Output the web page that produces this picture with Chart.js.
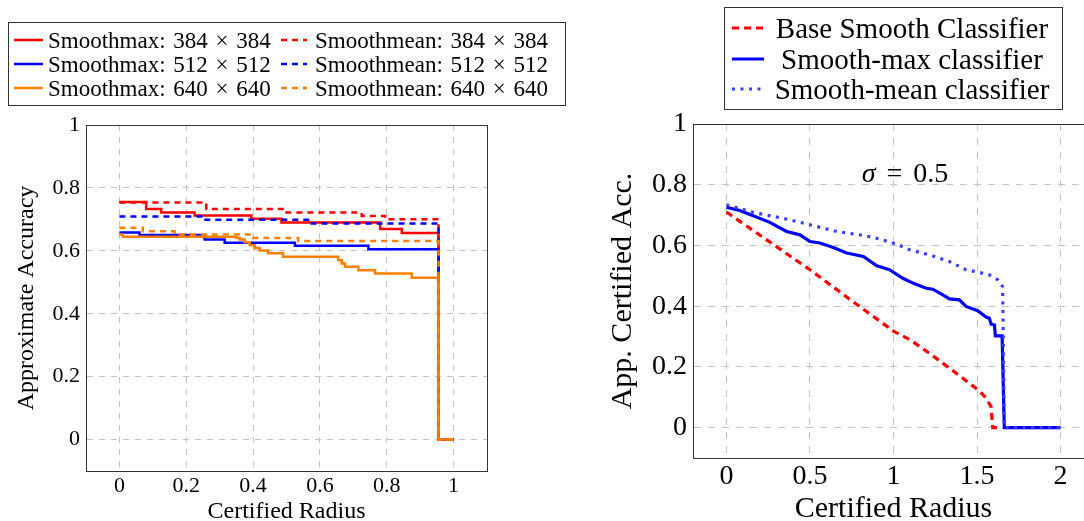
<!DOCTYPE html>
<html>
<head>
<meta charset="utf-8">
<script src="https://cdn.jsdelivr.net/npm/chart.js@4.4.0/dist/chart.umd.min.js"></script>
<style>
html, body { margin: 0; padding: 0; overflow: hidden; background: #fff; }
body { width: 1084px; height: 521px; position: relative; font-family: 'Liberation Serif', serif; color: #000; }
canvas { position: absolute; top: 0; }
.box { position: absolute; border: 1px solid #333; box-sizing: border-box; }
.item { position: absolute; white-space: nowrap; line-height: 1; }
svg { position: absolute; }
#sigma { position: absolute; left: 905px; top: 173px; transform: translate(-50%, -50%); font-size: 28px; line-height: 1; white-space: nowrap; word-spacing: 4px; }
</style>
</head>
<body>
<canvas id="left" width="500" height="521" style="left:0"></canvas>
<canvas id="right" width="520" height="521" style="left:590px"></canvas>
<div class="box" style="left:8px;top:22px;width:558px;height:84px"></div>
<div class="box" style="left:724px;top:7px;width:339px;height:103px"></div>
<div id="sigma"><i>σ</i> = 0.5</div>
<script>
// left panel: resolution study (step curves)
const leftXTicks = [0, 0.2, 0.4, 0.6, 0.8, 1];
const leftYTicks = [0, 0.2, 0.4, 0.6, 0.8, 1];

const max384X = [0, 0.08, 0.125, 0.225, 0.395, 0.485, 0.78, 0.845, 0.955, 1.0];
const max384Y = [0.755, 0.733, 0.722, 0.712, 0.702, 0.69, 0.669, 0.657, 0, 0];
const mean384X = [0, 0.26, 0.5, 0.725, 0.795, 0.955, 1.0];
const mean384Y = [0.754, 0.733, 0.722, 0.711, 0.70, 0, 0];
const max512X = [0, 0.06, 0.255, 0.315, 0.525, 0.745, 0.955, 1.0];
const max512Y = [0.658, 0.65, 0.636, 0.626, 0.616, 0.605, 0, 0];
const mean512X = [0, 0.245, 0.57, 0.955, 1.0];
const mean512Y = [0.709, 0.699, 0.687, 0, 0];
const max640X = [0, 0.01, 0.35, 0.36, 0.375, 0.39, 0.405, 0.42, 0.445, 0.49, 0.655, 0.665, 0.675, 0.715, 0.765, 0.875, 0.955, 1.0];
const max640Y = [0.652, 0.645, 0.641, 0.636, 0.627, 0.618, 0.609, 0.601, 0.592, 0.581, 0.57, 0.56, 0.549, 0.538, 0.528, 0.514, 0, 0];
const mean640X = [0, 0.07, 0.165, 0.4, 0.535, 0.955, 1.0];
const mean640Y = [0.673, 0.662, 0.652, 0.641, 0.631, 0, 0];

// right panel: sigma = 0.5
const rightXTicks = [0, 0.5, 1, 1.5, 2];
const rightYTicks = [0, 0.2, 0.4, 0.6, 0.8, 1];

const baseX = [0, 0.25, 0.5, 0.75, 1.0, 1.1, 1.215, 1.335, 1.454, 1.514, 1.554, 1.584, 1.594, 1.625];
const baseY = [0.71, 0.615, 0.52, 0.418, 0.318, 0.289, 0.245, 0.196, 0.146, 0.121, 0.097, 0.069, 0, 0];
const smaxX = [0, 0.08, 0.16, 0.26, 0.36, 0.44, 0.5, 0.56, 0.64, 0.72, 0.82, 0.9, 0.976, 1.056, 1.116, 1.195, 1.235, 1.295, 1.335, 1.394, 1.434, 1.504, 1.554, 1.574, 1.584, 1.604, 1.61, 1.65, 1.663, 2.0];
const smaxY = [0.726, 0.715, 0.698, 0.676, 0.646, 0.635, 0.613, 0.608, 0.593, 0.575, 0.564, 0.533, 0.52, 0.492, 0.476, 0.459, 0.456, 0.437, 0.424, 0.421, 0.399, 0.385, 0.364, 0.36, 0.341, 0.338, 0.302, 0.302, 0, 0];
const smeanX = [0, 0.16, 0.36, 0.5, 0.66, 0.82, 0.92, 1.02, 1.096, 1.215, 1.335, 1.434, 1.514, 1.574, 1.624, 1.653, 1.657, 1.663, 2.0];
const smeanY = [0.734, 0.709, 0.687, 0.668, 0.646, 0.633, 0.621, 0.604, 0.586, 0.569, 0.547, 0.52, 0.511, 0.503, 0.487, 0.465, 0.302, 0, 0];

const RED = '#ff0000', BLUE = '#0000ff', ORANGE = '#ff8000', LBLUE = '#3c3cff';
const serif = "'Liberation Serif', serif";

const pts = (xs, ys) => xs.map((x, i) => ({ x: x, y: ys[i] }));

const leftSeries = [
    { label: 'Smoothmax: 384 × 384', x: max384X, y: max384Y, color: RED, dash: [], col: 0, row: 0 },
    { label: 'Smoothmean: 384 × 384', x: mean384X, y: mean384Y, color: RED, dash: [6, 5], col: 1, row: 0 },
    { label: 'Smoothmax: 512 × 512', x: max512X, y: max512Y, color: BLUE, dash: [], col: 0, row: 1 },
    { label: 'Smoothmean: 512 × 512', x: mean512X, y: mean512Y, color: BLUE, dash: [6, 5], col: 1, row: 1 },
    { label: 'Smoothmax: 640 × 640', x: max640X, y: max640Y, color: ORANGE, dash: [], col: 0, row: 2 },
    { label: 'Smoothmean: 640 × 640', x: mean640X, y: mean640Y, color: ORANGE, dash: [6, 5], col: 1, row: 2 }
];

const rightSeries = [
    { label: 'Base Smooth Classifier', x: baseX, y: baseY, color: RED, dash: [7, 5] },
    { label: 'Smooth-max classifier', x: smaxX, y: smaxY, color: BLUE, dash: [] },
    { label: 'Smooth-mean classifier', x: smeanX, y: smeanY, color: LBLUE, dash: [3, 5.5] }
];

// closes the plot box on all four sides
const frame = {
    id: 'frame',
    afterDraw(chart) {
        const { ctx, chartArea: a } = chart;
        ctx.save();
        ctx.strokeStyle = '#333';
        ctx.lineWidth = 1;
        ctx.strokeRect(a.left + 0.5, a.top + 0.5, a.right - a.left, a.bottom - a.top);
        ctx.restore();
    }
};

function axis(min, max, ticks, title, o) {
    return {
        type: 'linear',
        min: min,
        max: max,
        afterBuildTicks: s => { s.ticks = ticks.map(v => ({ value: v })); },
        afterFit: s => { if (s.isHorizontal()) s.height = o.size; else s.width = o.size; },
        grid: { color: '#c4c4c4', lineWidth: 1, drawTicks: false },
        border: { color: '#333', dash: o.dash },
        ticks: { padding: o.pad, color: '#000', font: { family: serif, size: o.tick }, callback: v => String(v) },
        title: { display: true, text: title, color: '#000', font: { family: serif, size: o.title }, padding: o.titlePad }
    };
}

function drawChart(id, series, width, stepped, padding, scales) {
    new Chart(document.getElementById(id), {
        type: 'line',
        data: {
            // later series are painted over earlier ones, as in the original
            datasets: series.map((s, i) => ({
                label: s.label,
                data: pts(s.x, s.y),
                borderColor: s.color,
                borderDash: s.dash,
                borderWidth: width,
                pointRadius: 0,
                fill: false,
                tension: 0,
                stepped: stepped,
                order: series.length - i
            }))
        },
        options: {
            responsive: false,
            animation: false,
            layout: { padding: padding },
            plugins: { legend: { display: false }, tooltip: { enabled: false } },
            scales: scales
        },
        plugins: [frame]
    });
}

function legendItem(x0, x1, y, s, lw) {
    const w = x1 - x0;
    const svg = document.createElementNS('http://www.w3.org/2000/svg', 'svg');
    svg.setAttribute('width', w);
    svg.setAttribute('height', 10);
    svg.style.left = x0 + 'px';
    svg.style.top = (y - 5) + 'px';
    svg.innerHTML = `<line x1="0" y1="5" x2="${w}" y2="5" stroke="${s.color}" stroke-width="${lw}" stroke-dasharray="${s.dash.length ? s.dash.join(' ') : 'none'}"/>`;
    document.body.appendChild(svg);
}

function legendText(x, y, text, size, center, extra) {
    const span = document.createElement('span');
    span.className = 'item';
    span.textContent = text;
    span.style.left = x + 'px';
    span.style.top = (y - size / 2) + 'px';
    span.style.fontSize = size + 'px';
    if (extra) span.style.wordSpacing = extra + 'px';
    if (center) span.style.transform = 'translateX(-50%)';
    document.body.appendChild(span);
}

function drawLegends() {
    const rowsL = [40, 64, 88];
    const cols = [{ a: 14, b: 43, t: 48 }, { a: 281, b: 307, t: 315 }];
    leftSeries.forEach(s => {
        const c = cols[s.col];
        legendItem(c.a, c.b, rowsL[s.row], s, 2.5);
        legendText(c.t, rowsL[s.row], s.label, 23, false, 2);
    });
    const rowsR = [28, 59, 89];
    rightSeries.forEach((s, i) => {
        legendItem(732, 764, rowsR[i], s, 3);
        legendText(912, rowsR[i], s.label, 29, true, 0);
    });
}

document.addEventListener('DOMContentLoaded', () => {
    drawChart('left', leftSeries, 2.5, 'before',
        { top: 125, right: 13, left: 0, bottom: 0 },
        {
            x: axis(-0.1, 1.1, leftXTicks, 'Certified Radius',
                { size: 50, dash: [6, 6], pad: 2, tick: 22, title: 24, titlePad: { top: 0, bottom: -5 } }),
            y: axis(-0.1, 1, leftYTicks, 'Approximate Accuracy',
                { size: 86, dash: [6, 6], pad: 6, tick: 22, title: 24, titlePad: { top: 12, bottom: 0 } })
        });
    drawChart('right', rightSeries, 3.2, false,
        { top: 124, right: 16, left: 0, bottom: 0 },
        {
            x: axis(-0.2, 2.2, rightXTicks, 'Certified Radius',
                { size: 63, dash: [7, 7], pad: 2, tick: 28, title: 30, titlePad: { top: 0, bottom: -6 } }),
            y: axis(-0.1, 1, rightYTicks, 'App. Certified Acc.',
                { size: 103, dash: [7, 7], pad: 6, tick: 28, title: 30, titlePad: { top: 15, bottom: 0 } })
        });
    drawLegends();
});
</script>
</body>
</html>
